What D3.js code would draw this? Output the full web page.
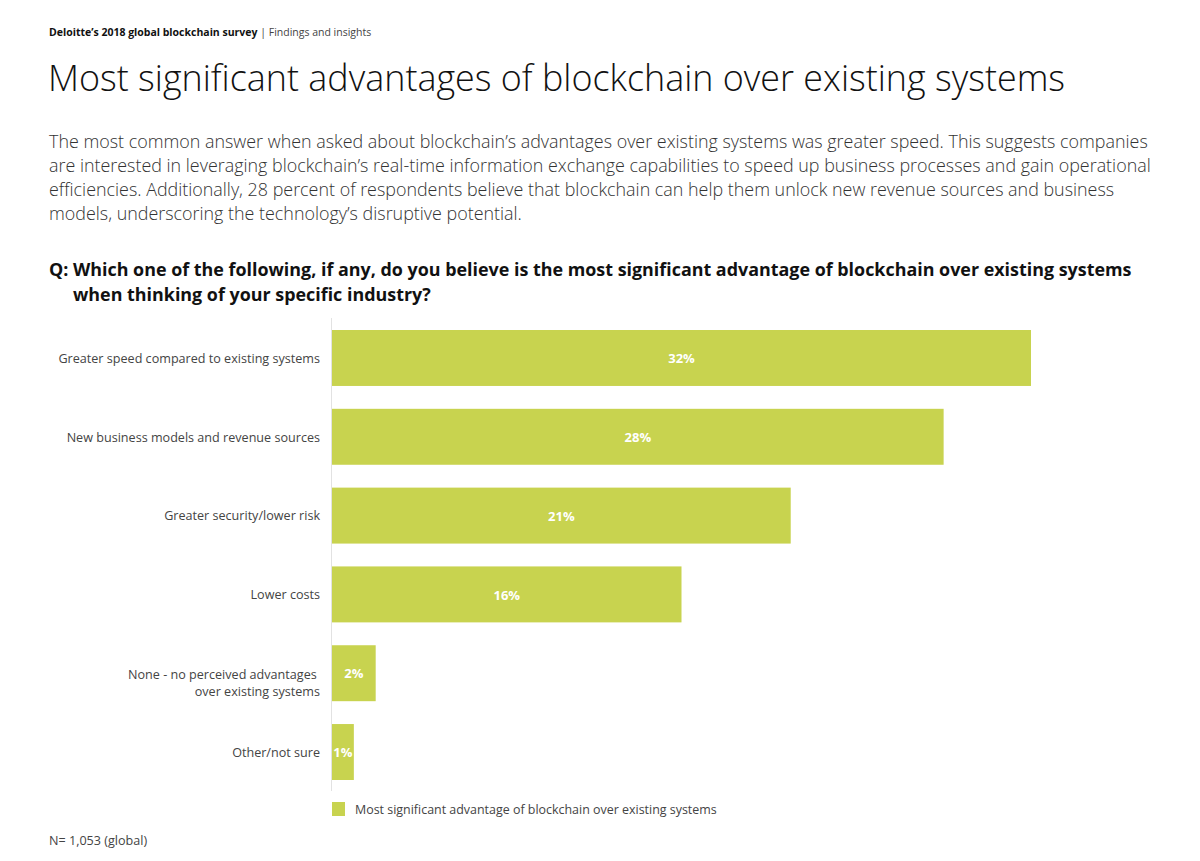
<!DOCTYPE html>
<html>
<head>
<meta charset="utf-8">
<script src="https://cdn.jsdelivr.net/npm/d3@7"></script>
<style>
  html, body { margin: 0; padding: 0; background: #fff; }
  svg { display: block; font-family: "Open Sans", "Noto Sans", sans-serif; }
</style>
</head>
<body>
<svg id="chart" width="1200" height="861"></svg>
<script>
// ---- data ----
const categories = [
  ["Greater speed compared to existing systems"],
  ["New business models and revenue sources"],
  ["Greater security/lower risk"],
  ["Lower costs"],
  ["None - no perceived advantages ", "over existing systems"],
  ["Other/not sure"]
];
const values = [32, 28, 21, 16, 2, 1];
const valueLabels = ["32%", "28%", "21%", "16%", "2%", "1%"];
const seriesName = "Most significant advantage of blockchain over existing systems";

const headerBold = "Deloitte’s 2018 global blockchain survey";
const headerRest = " | Findings and insights";
const title = "Most significant advantages of blockchain over existing systems";
const paragraph = [
  "The most common answer when asked about blockchain’s advantages over existing systems was greater speed. This suggests companies",
  "are interested in leveraging blockchain’s real-time information exchange capabilities to speed up business processes and gain operational",
  "efficiencies. Additionally, 28 percent of respondents believe that blockchain can help them unlock new revenue sources and business",
  "models, underscoring the technology’s disruptive potential."
];
const question = [
  "Q: Which one of the following, if any, do you believe is the most significant advantage of blockchain over existing systems",
  "when thinking of your specific industry?"
];
const footnote = "N= 1,053 (global)";

// ---- drawing ----
const svg = d3.select("#chart");
const barColor = "#c8d34f";

// header
const h = svg.append("text").attr("x", 49).attr("y", 35.5)
  .attr("font-size", 10.5).attr("fill", "#111");
h.append("tspan").attr("font-weight", 700).text(headerBold);
h.append("tspan").attr("fill", "#444").attr("font-weight", 400).text(headerRest);

// title
svg.append("text").attr("x", 48).attr("y", 91)
  .attr("font-size", 35.9).attr("font-weight", 300).attr("fill", "#111")
  .text(title);

// paragraph
svg.append("g").selectAll("text").data(paragraph).join("text")
  .attr("x", 49).attr("y", (d, i) => 148 + i * 24)
  .attr("font-size", 17.9).attr("font-weight", 300).attr("fill", "#333")
  .text(d => d);

// question
svg.append("g").selectAll("text").data(question).join("text")
  .attr("x", (d, i) => i === 0 ? 49 : 73).attr("y", (d, i) => 276 + i * 25)
  .attr("font-size", 17.9).attr("font-weight", 700).attr("fill", "#111")
  .text(d => d);

// scales
const x = d3.scaleLinear().domain([0, d3.max(values)]).range([332, 1031]);
const y = d3.scaleBand().domain(d3.range(values.length)).range([330, 780])
  .paddingInner(0.29).paddingOuter(0);

// category axis line (no ticks)
const yAxis = d3.axisLeft(y).tickSize(0).tickFormat("");
const ag = svg.append("g").attr("transform", `translate(${x(0)},0)`).call(yAxis);
ag.select(".domain").remove();
svg.append("line")
  .attr("x1", x(0) - 0.5).attr("x2", x(0) - 0.5)
  .attr("y1", 318).attr("y2", 791)
  .attr("stroke", "#e2e2e2").attr("stroke-width", 1);

// bars
svg.append("g").selectAll("rect").data(values).join("rect")
  .attr("x", x(0))
  .attr("y", (d, i) => y(i))
  .attr("width", d => x(d) - x(0))
  .attr("height", y.bandwidth())
  .attr("fill", barColor);

// value labels
svg.append("g").selectAll("text").data(values).join("text")
  .attr("x", d => (x(d) + x(0)) / 2)
  .attr("y", (d, i) => y(i) + y.bandwidth() / 2)
  .attr("dy", "0.4em")
  .attr("text-anchor", "middle")
  .attr("font-size", 13).attr("font-weight", 700).attr("fill", "#fff")
  .text((d, i) => valueLabels[i]);

// category labels
const cl = svg.append("g").selectAll("text").data(categories).join("text")
  .attr("text-anchor", "end")
  .attr("font-size", 12.6).attr("font-weight", 400).attr("fill", "#444")
  .attr("y", (d, i) => y(i) + y.bandwidth() / 2);
cl.each(function(lines) {
  const t = d3.select(this);
  const n = lines.length;
  lines.forEach((line, k) => {
    t.append("tspan")
      .attr("x", 320)
      .attr("dy", k === 0 ? (n > 1 ? "0.48em" : "0.38em") : "1.3em")
      .style("white-space", "pre")
      .text(line);
  });
});

// legend
svg.append("rect").attr("x", 332).attr("y", 802).attr("width", 13).attr("height", 14)
  .attr("fill", barColor);
svg.append("text").attr("x", 355).attr("y", 814)
  .attr("font-size", 12.45).attr("fill", "#444").text(seriesName);

// footnote
svg.append("text").attr("x", 49).attr("y", 844.5)
  .attr("font-size", 12.6).attr("fill", "#444").text(footnote);
</script>
</body>
</html>
